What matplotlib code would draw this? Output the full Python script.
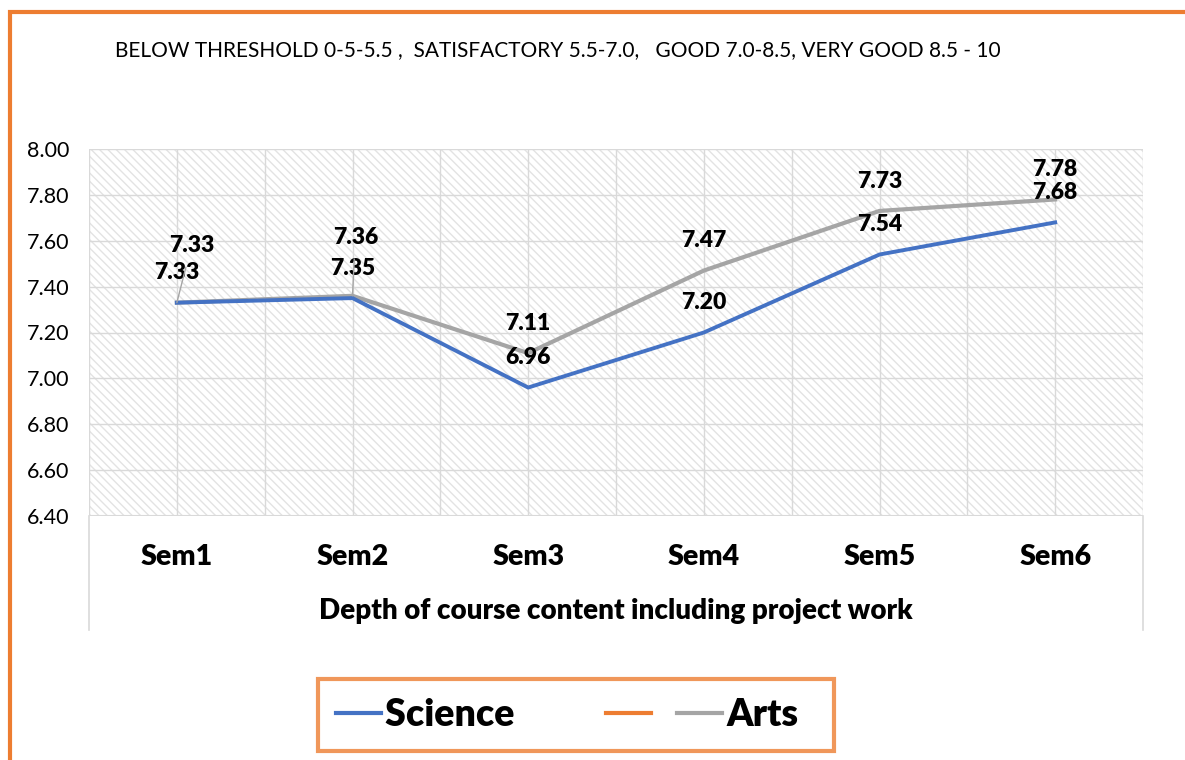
import matplotlib
matplotlib.use("Agg")
import matplotlib.pyplot as plt
from matplotlib.patches import Rectangle
from matplotlib.lines import Line2D
import numpy as np

plt.rcParams["font.family"] = ["Lato", "DejaVu Sans"]
plt.rcParams["hatch.linewidth"] = 1.0

# data
categories = ["Sem1", "Sem2", "Sem3", "Sem4", "Sem5", "Sem6"]
science = [7.33, 7.35, 6.96, 7.20, 7.54, 7.68]
arts = [7.33, 7.36, 7.11, 7.47, 7.73, 7.78]
y_ticks = [6.40, 6.60, 6.80, 7.00, 7.20, 7.40, 7.60, 7.80, 8.00]

TITLE = "BELOW THRESHOLD 0-5-5.5 ,  SATISFACTORY 5.5-7.0,   GOOD 7.0-8.5, VERY GOOD 8.5 - 10"
XLABEL = "Depth of course content including project work"

BLUE = "#4472C4"
GREY = "#A5A5A5"
ORANGE = "#ED7D31"
GRID = "#D9D9D9"
BOLD = "heavy"

W, H = 1185, 760
fig = plt.figure(figsize=(W / 100, H / 100), dpi=100)
ax = fig.add_axes([89 / W, 1 - 516 / H, (1143 - 89) / W, (516 - 149) / H])

x = np.arange(len(categories))
ax.set_xlim(-0.5, len(categories) - 0.5)
ax.set_ylim(6.4, 8.0)

# hatched plot background
ax.add_patch(Rectangle((0, 0), 1, 1, transform=ax.transAxes, facecolor="white",
                       edgecolor="#E3E3E3", hatch="\\\\\\\\", lw=0, zorder=0))

ax.set_yticks(y_ticks)
ax.set_yticklabels(["%.2f" % v for v in y_ticks])
ax.set_xticks(x)
ax.set_xticklabels(categories, fontweight=BOLD)
ax.set_xticks(np.arange(-0.5, len(categories)), minor=True)
ax.grid(True, which="both", color=GRID, lw=1, zorder=1)
ax.tick_params(axis="y", length=0, pad=14, labelsize=15.5)
ax.tick_params(axis="x", which="both", length=0, pad=20, labelsize=20.5)
for s in ax.spines.values():
    s.set_visible(False)
ax.axhline(6.4, color=GRID, lw=1.5, zorder=2)
# long category-axis edge ticks
for xe in (0, 1):
    ax.plot([xe, xe], [0, -0.31], transform=ax.transAxes, color=GRID, lw=1.2, clip_on=False)

ax.set_xlabel(XLABEL, fontweight=BOLD, fontsize=20, labelpad=20)

ln_sci, = ax.plot(x, science, color=BLUE, lw=2.8, zorder=4, solid_joinstyle="miter")
ln_arts, = ax.plot(x, arts, color=GREY, lw=3.0, zorder=3, solid_joinstyle="miter")

# data labels, sitting ~30px above each point
off = 21.5
for i in range(len(categories)):
    ax.annotate("%.2f" % science[i], (x[i], science[i]), xytext=(0, off),
                textcoords="offset points", ha="center", va="center",
                fontsize=16.5, fontweight=BOLD, zorder=6)
moved = {0: (10.5, 41), 1: (2, 42)}
for i in range(len(categories)):
    if i in moved:
        ax.annotate("%.2f" % arts[i], (x[i], arts[i]), xytext=moved[i],
                    textcoords="offset points", ha="center", va="center",
                    fontsize=16.5, fontweight=BOLD, zorder=6,
                    arrowprops=dict(arrowstyle="-", color=GREY, lw=1, shrinkA=6, shrinkB=0))
    else:
        ax.annotate("%.2f" % arts[i], (x[i], arts[i]), xytext=(0, off),
                    textcoords="offset points", ha="center", va="center",
                    fontsize=16.5, fontweight=BOLD, zorder=6)

fig.text(558 / W, 1 - 50 / H, TITLE, ha="center", va="center", fontsize=15)

# legend with an unnamed orange series
blank = Line2D([], [], color=ORANGE, lw=2.8)
leg = fig.legend([ln_sci, blank, ln_arts], ["Science        ", "", "Arts  "], ncol=3,
                 loc="center", bbox_to_anchor=(576 / W, 1 - 715 / H),
                 prop={"weight": BOLD, "size": 27}, frameon=True, fancybox=False,
                 handlelength=1.2, handletextpad=0.1, columnspacing=0.6,
                 borderpad=0.5, borderaxespad=0)
leg.get_frame().set_edgecolor(ORANGE)
leg.get_frame().set_linewidth(3)
for h in leg.get_lines():
    h.set_linewidth(3)

# orange chart border (right/bottom run off the canvas)
fig.patches.append(Rectangle((9.5 / W, -0.1), 1.2, 1.1 - 11.5 / H, transform=fig.transFigure,
                             fill=False, edgecolor=ORANGE, lw=3, clip_on=False))

fig.savefig("out.png", dpi=100)
